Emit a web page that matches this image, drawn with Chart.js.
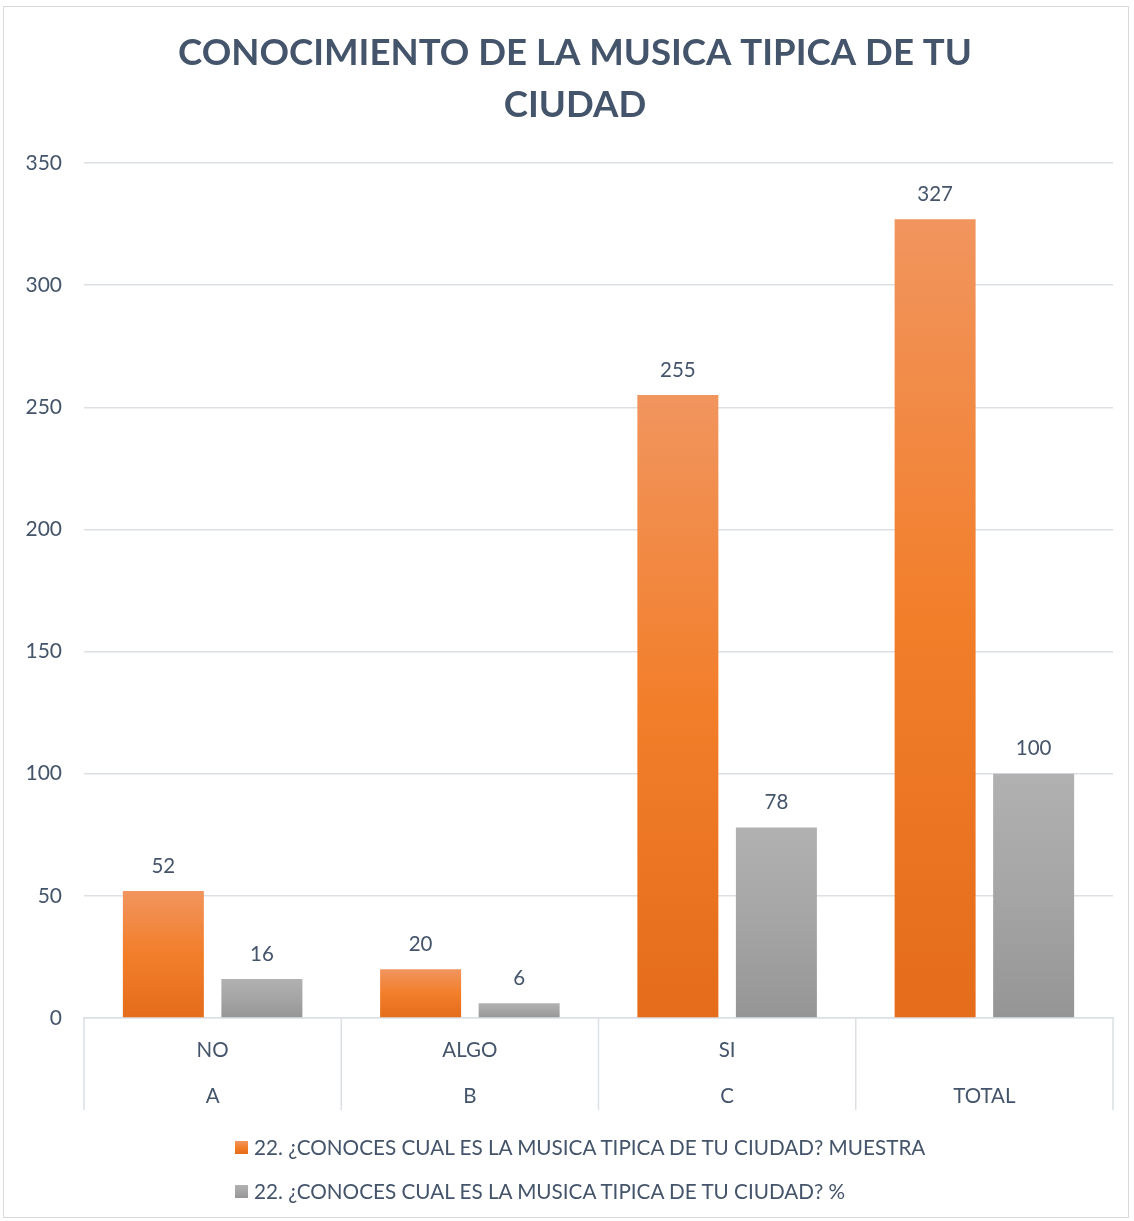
<!DOCTYPE html>
<html>
<head>
<meta charset="utf-8">
<script src="https://cdn.jsdelivr.net/npm/chart.js@4/dist/chart.umd.min.js"></script>
<style>
  html, body { margin: 0; padding: 0; background: #fff; }
  #wrap { position: relative; width: 1134px; height: 1221px; overflow: hidden; }
  #frame { position: absolute; left: 3px; top: 6px; width: 1126px; height: 1212px; border: 1px solid #D9D9D9; box-sizing: border-box; pointer-events: none; }
  #c { position: absolute; left: 0; top: 0; }
  #legend { position: absolute; left: 235px; top: 1134px; font-family: Lato, "Open Sans", sans-serif; font-size: 20.7px; color: #44546A; }
  .row { display: flex; align-items: center; height: 26px; margin-bottom: 18px; white-space: nowrap; }
  .sw { width: 13px; height: 13px; margin-right: 6px; }
</style>
</head>
<body>
<div id="wrap">
  <canvas id="c" width="1134" height="1221"></canvas>
  <div id="frame"></div>
  <div id="legend"></div>
</div>
<script>
// ---- data ----
const topLabels = ['NO', 'ALGO', 'SI', ''];
const bottomLabels = ['A', 'B', 'C', 'TOTAL'];
const seriesNames = [
  '22. ¿CONOCES CUAL ES LA MUSICA TIPICA DE TU CIUDAD? MUESTRA',
  '22. ¿CONOCES CUAL ES LA MUSICA TIPICA DE TU CIUDAD? %'
];
const muestra = [52, 20, 255, 327];
const porcentaje = [16, 6, 78, 100];
const yTicks = [0, 50, 100, 150, 200, 250, 300, 350];
const titleLines = ['CONOCIMIENTO DE LA MUSICA TIPICA DE TU', 'CIUDAD'];

// ---- styles ----
const TEXT = '#44546A';
const GRID = '#DCE0E5';
const FONT = 'Lato, "Open Sans", sans-serif';
const orangeStops = ['#F1955E', '#F27E2A', '#E46C1A'];
const grayStops = ['#B1B1B1', '#A5A5A5', '#959595'];

function barGradient(stops) {
  return function(ctx) {
    const chart = ctx.chart;
    const ys = chart.scales && chart.scales.y;
    if (!chart.chartArea || !ys || ctx.raw == null) return stops[1];
    const top = ys.getPixelForValue(ctx.raw);
    const bot = ys.getPixelForValue(0);
    const g = chart.ctx.createLinearGradient(0, top, 0, bot);
    g.addColorStop(0, stops[0]);
    g.addColorStop(0.5, stops[1]);
    g.addColorStop(1, stops[2]);
    return g;
  };
}

const labels = topLabels.map((t, i) => [t, bottomLabels[i]]);

const titlePlugin = {
  id: 'centeredTitle',
  afterDraw(chart) {
    const c = chart.ctx;
    c.save();
    c.font = 'bold 36.6px ' + FONT;
    c.fillStyle = TEXT;
    c.textAlign = 'center';
    c.textBaseline = 'middle';
    titleLines.forEach((t, i) => c.fillText(t, 575, 53 + i * 52));
    c.restore();
  }
};

const dataLabelPlugin = {
  id: 'dataLabels',
  afterDatasetsDraw(chart) {
    const c = chart.ctx;
    c.save();
    c.font = '20.5px ' + FONT;
    c.fillStyle = TEXT;
    c.textAlign = 'center';
    c.textBaseline = 'middle';
    chart.data.datasets.forEach((ds, di) => {
      const meta = chart.getDatasetMeta(di);
      meta.data.forEach((el, i) => {
        c.fillText(String(ds.data[i]), el.x, el.y - 25);
      });
    });
    c.restore();
  }
};

const separatorPlugin = {
  id: 'separators',
  afterDraw(chart) {
    const xs = chart.scales.x;
    const c = chart.ctx;
    const n = chart.data.labels.length;
    const y0 = chart.chartArea.bottom;
    c.save();
    c.strokeStyle = GRID;
    c.lineWidth = 1.5;
    for (let i = 0; i <= n; i++) {
      let x;
      if (i === 0) x = xs.left;
      else if (i === n) x = xs.right;
      else x = (xs.getPixelForValue(i - 1) + xs.getPixelForValue(i)) / 2;
      c.beginPath();
      c.moveTo(x, y0);
      c.lineTo(x, y0 + 92);
      c.stroke();
    }
    c.restore();
  }
};

new Chart(document.getElementById('c'), {
  type: 'bar',
  data: {
    labels: labels,
    datasets: [
      { label: seriesNames[0], data: muestra, backgroundColor: barGradient(orangeStops),
        categoryPercentage: 0.766, barPercentage: 0.822 },
      { label: seriesNames[1], data: porcentaje, backgroundColor: barGradient(grayStops),
        categoryPercentage: 0.766, barPercentage: 0.822 }
    ]
  },
  options: {
    responsive: false,
    animation: false,
    layout: { padding: { left: 0, right: 21, top: 163, bottom: 111 } },
    plugins: {
      legend: { display: false },
      tooltip: { enabled: false },
      title: { display: false }
    },
    scales: {
      x: {
        grid: { display: false, drawTicks: false },
        border: { display: true, color: GRID, width: 1.5 },
        ticks: {
          color: TEXT,
          font: { family: FONT, size: 20.5, lineHeight: 2.25 },
          padding: 9,
          maxRotation: 0,
          autoSkip: false
        },
        afterFit(scale) { scale.height = 92; }
      },
      y: {
        min: 0, max: 350,
        afterBuildTicks(scale) { scale.ticks = yTicks.map(v => ({ value: v })); },
        grid: { color: GRID, lineWidth: 1.5, drawTicks: false },
        border: { display: false },
        ticks: { color: TEXT, font: { family: FONT, size: 21 }, padding: 22 },
        afterFit(scale) { scale.width = 84; }
      }
    }
  },
  plugins: [titlePlugin, dataLabelPlugin, separatorPlugin]
});

// HTML legend
const legendEl = document.getElementById('legend');
[orangeStops, grayStops].forEach((stops, i) => {
  const row = document.createElement('div');
  row.className = 'row';
  const sw = document.createElement('span');
  sw.className = 'sw';
  sw.style.background = 'linear-gradient(' + stops[0] + ',' + stops[1] + ',' + stops[2] + ')';
  const tx = document.createElement('span');
  tx.textContent = seriesNames[i];
  row.appendChild(sw);
  row.appendChild(tx);
  legendEl.appendChild(row);
});
</script>
</body>
</html>
